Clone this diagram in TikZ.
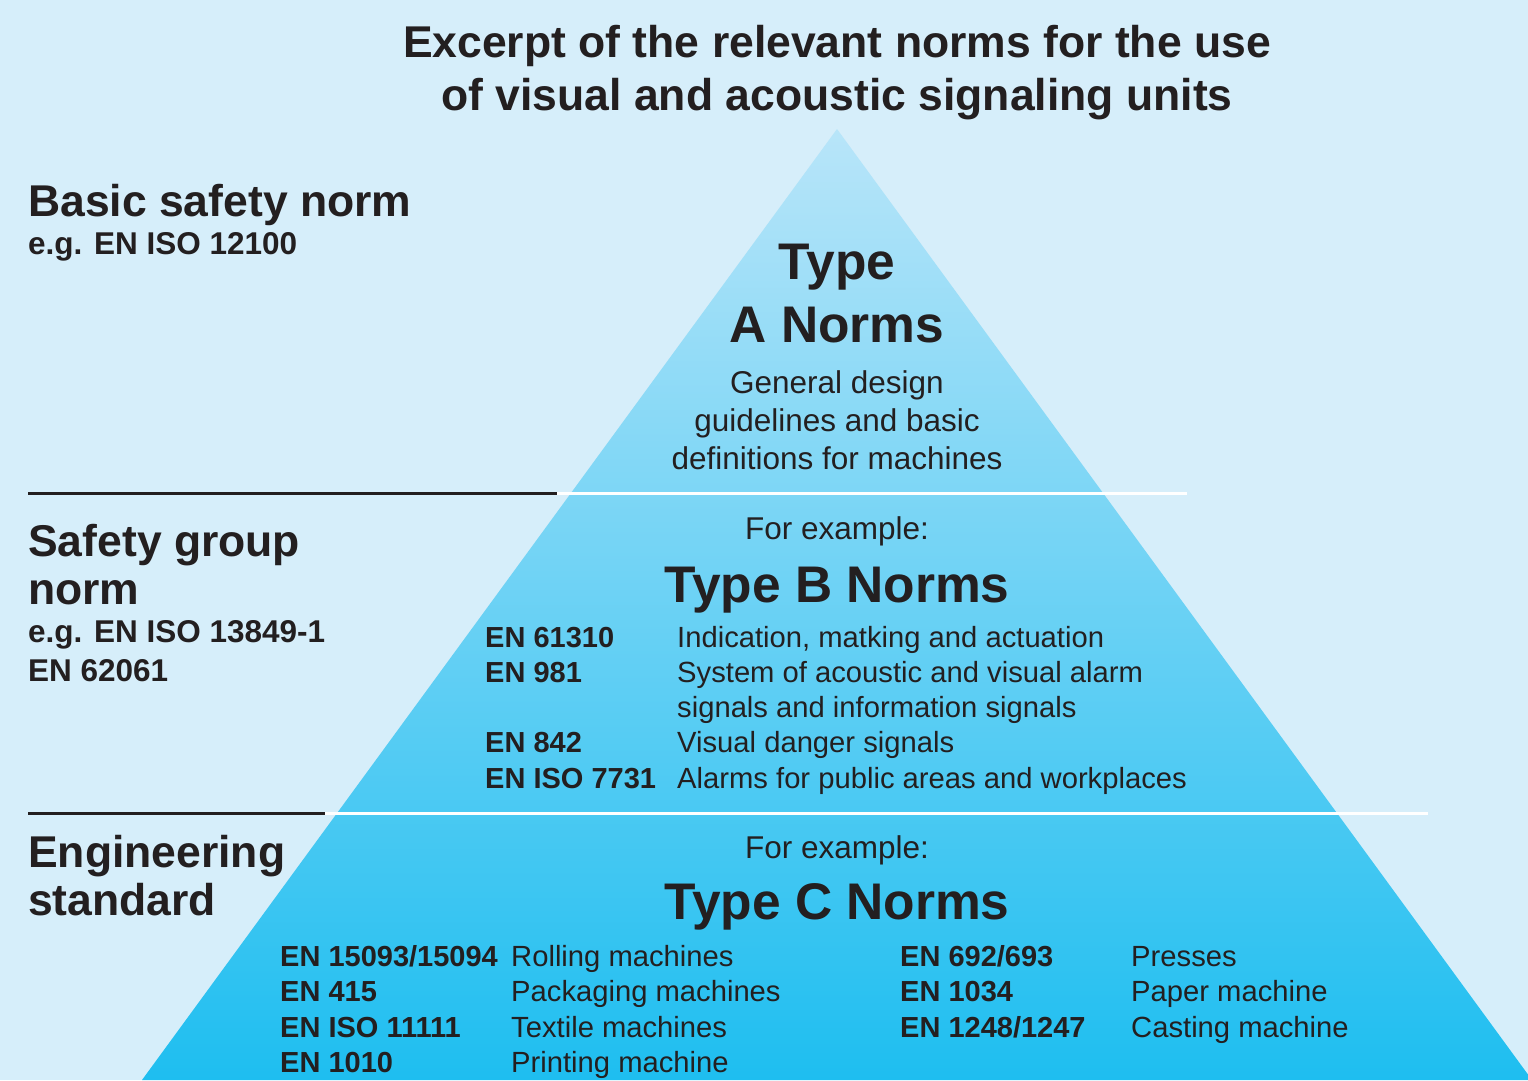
\documentclass[tikz,border=0pt]{standalone}
\usepackage{fontspec}
\setmainfont{Liberation Sans}
\usetikzlibrary{positioning}

\definecolor{bgblue}{HTML}{D6EEFA}
\definecolor{pyrtop}{HTML}{B8E5F9}
\definecolor{pyrmid}{HTML}{6CD0F5}
\definecolor{pyrbot}{HTML}{1EBEF0}
\definecolor{ink}{HTML}{231F20}

\begin{document}
\begin{tikzpicture}[x=1pt,y=-1pt,
    every node/.style={text=ink,inner sep=0pt},
    title/.style={anchor=base,font=\fontsize{44.5}{53}\selectfont\bfseries},
    level/.style={anchor=base west,font=\fontsize{44.5}{48}\selectfont\bfseries},
    example/.style={anchor=base west,font=\fontsize{31.5}{39}\selectfont\bfseries},
    typename/.style={anchor=base,font=\fontsize{51.5}{60}\selectfont\bfseries},
    desc/.style={anchor=base,font=\fontsize{31.5}{38}\selectfont},
    normno/.style={anchor=base west,font=\fontsize{29}{35}\selectfont\bfseries},
    normtxt/.style={anchor=base west,font=\fontsize{29.2}{35}\selectfont}]

    \useasboundingbox[fill=bgblue] (0,0) rectangle (1528,1080);

    % pyramid
    \coordinate (apex) at (837,129);
    \coordinate (baseL) at (142,1080);
    \coordinate (baseR) at (1532,1080);
    \shade[top color=pyrtop,middle color=pyrmid,bottom color=pyrbot]
        (apex) -- (baseR) -- (baseL) -- cycle;

    % level separators
    \coordinate (sepA) at (28,493);
    \coordinate (sepB) at (28,813);
    \draw[ink,line width=3pt] (sepA) -- ++(529,0) coordinate (sepAm);
    \draw[white,line width=3pt] (sepAm) -- (1187,493);
    \draw[ink,line width=3pt] (sepB) -- ++(297,0) coordinate (sepBm);
    \draw[white,line width=3pt] (sepBm) -- (1428,813);

    % heading
    \node[title] (head1) at (837,57) {Excerpt of the relevant norms for the use};
    \node[title] (head2) at (837,110) {of visual and acoustic signaling units};

    % left column
    \node[level] (basic) at (28,216) {Basic safety norm};
    \node[example] (basicex) at (28,254) {e.g. EN ISO 12100};
    \node[level] (group1) at (28,556) {Safety group};
    \node[level] (group2) at (28,604) {norm};
    \node[example] (groupex1) at (28,642) {e.g. EN ISO 13849-1};
    \node[example] (groupex2) at (28,681) {EN 62061};
    \node[level] (eng1) at (28,867) {Engineering};
    \node[level] (eng2) at (28,915) {standard};

    % type A
    \node[typename] (typeA1) at (837,279) {Type};
    \node[typename] (typeA2) at (837,342) {A Norms};
    \node[desc] (descA1) at (837,393) {General design};
    \node[desc] (descA2) at (837,431) {guidelines and basic};
    \node[desc] (descA3) at (837,469) {definitions for machines};

    % type B
    \node[desc] (forB) at (837,539) {For example:};
    \node[typename] (typeB) at (837,602) {Type B Norms};
    \foreach \no/\txt/\y [count=\i] in {
        {EN 61310}/{Indication, matking and actuation}/647,
        {EN 981}/{System of acoustic and visual alarm}/682,
        {}/{signals and information signals}/717,
        {EN 842}/{Visual danger signals}/752,
        {EN ISO 7731}/{Alarms for public areas and workplaces}/788}{
      \node[normno] (bno\i) at (485,\y) {\no};
      \node[normtxt] (btxt\i) at (677,\y) {\txt};
    }

    % type C
    \node[desc] (forC) at (837,858) {For example:};
    \node[typename] (typeC) at (837,919) {Type C Norms};
    \foreach \no/\txt/\y [count=\i] in {
        {EN 15093/15094}/{Rolling machines}/966,
        {EN 415}/{Packaging machines}/1001,
        {EN ISO 11111}/{Textile machines}/1037,
        {EN 1010}/{Printing machine}/1072}{
      \node[normno] (cno\i) at (280,\y) {\no};
      \node[normtxt] (ctxt\i) at (511,\y) {\txt};
    }
    \foreach \no/\txt/\y [count=\i] in {
        {EN 692/693}/{Presses}/966,
        {EN 1034}/{Paper machine}/1001,
        {EN 1248/1247}/{Casting machine}/1037}{
      \node[normno] (dno\i) at (900,\y) {\no};
      \node[normtxt] (dtxt\i) at (1131,\y) {\txt};
    }
\end{tikzpicture}
\end{document}
